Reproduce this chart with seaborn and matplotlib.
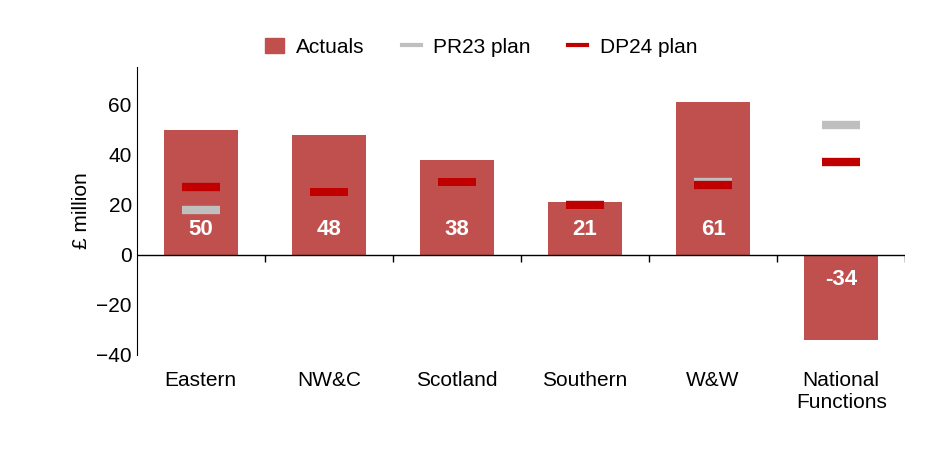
import matplotlib
matplotlib.use("Agg")
import matplotlib.pyplot as plt
import seaborn as sns
import pandas as pd
import numpy as np
from matplotlib.lines import Line2D
from matplotlib.patches import Patch

# ── Data ─────────────────────────────────────────────────────────────────────
categories = ["Eastern", "NW&C", "Scotland", "Southern", "W&W", "National\nFunctions"]
actuals    = [50, 48, 38, 21, 61, -34]
pr23_plan  = [18, 25, 29, 20, 29, 52]
dp24_plan  = [27, 25, 29, 20, 28, 37]

BAR_COL  = "#C0504D"
DP24_COL = "#C00000"
PR23_COL = "#BFBFBF"

plt.rcParams["font.family"] = "Liberation Sans"
plt.rcParams["font.size"] = 15

df = pd.DataFrame({"cat": categories, "actual": actuals})

fig = plt.figure(figsize=(9.43, 4.49), dpi=100)
ax = fig.add_axes([0.145, 0.21, 0.815, 0.64])

sns.barplot(data=df, x="cat", y="actual", color=BAR_COL, width=0.58,
            saturation=1, ax=ax)

x = np.arange(len(categories))
ax.hlines(pr23_plan, x - 0.15, x + 0.15, color=PR23_COL, lw=6, zorder=3)
ax.hlines(dp24_plan, x - 0.15, x + 0.15, color=DP24_COL, lw=6, zorder=4)

for xi, v in zip(x, actuals):
    ax.text(xi, 10 if v > 0 else -10, f"{v}", ha="center", va="center",
            color="white", fontweight="bold", fontsize=16, zorder=5)

ax.set_ylim(-40, 75)
ax.set_xlim(-0.5, len(categories) - 0.5)
ax.set_yticks([-40, -20, 0, 20, 40, 60])
ax.set_ylabel("£ million")
ax.set_xlabel("")
ax.tick_params(axis="x", length=0, pad=12)
ax.tick_params(axis="y", length=0)
for s in ["top", "right", "bottom"]:
    ax.spines[s].set_visible(False)
ax.spines["left"].set_color("black")
ax.axhline(0, color="black", lw=1, zorder=6)
ax.vlines(x[:-1] + 0.5, -3, 0, color="black", lw=1, zorder=6)
ax.vlines([len(categories) - 0.5], -3, 0, color="black", lw=1, zorder=6)

handles = [Patch(color=BAR_COL, label="Actuals"),
           Line2D([], [], color=PR23_COL, lw=3, label="PR23 plan"),
           Line2D([], [], color=DP24_COL, lw=3, label="DP24 plan")]
fig.legend(handles=handles, loc="center", bbox_to_anchor=(0.51, 0.895),
           ncol=3, frameon=False, handlelength=0.9, columnspacing=1.8,
           handletextpad=0.6)

fig.savefig("out.png", dpi=100)
